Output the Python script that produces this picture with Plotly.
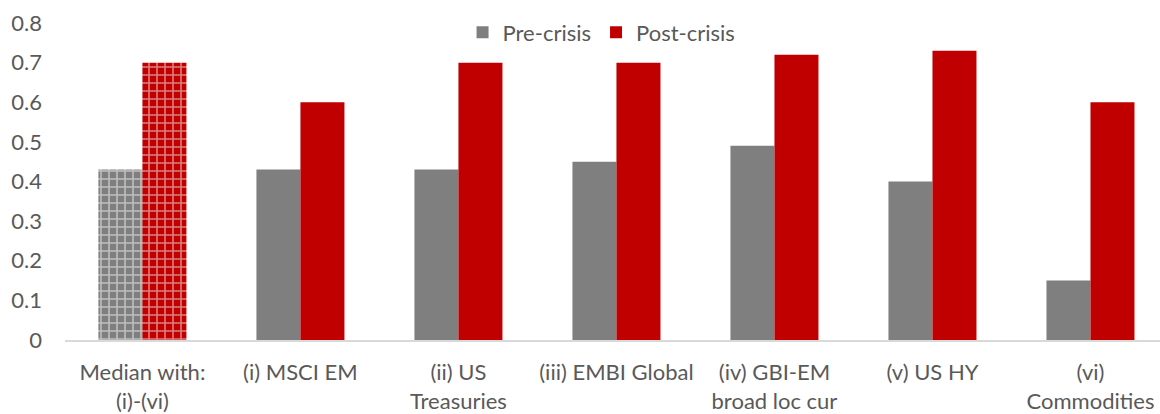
import plotly.graph_objects as go

categories = [
    "Median with:<br>(i)-(vi)",
    "(i) MSCI EM",
    "(ii) US<br>Treasuries",
    "(iii) EMBI Global",
    "(iv) GBI-EM<br>broad loc cur",
    "(v) US HY",
    "(vi)<br>Commodities",
]
pre_crisis = [0.43, 0.43, 0.43, 0.45, 0.49, 0.40, 0.15]
post_crisis = [0.70, 0.60, 0.70, 0.70, 0.72, 0.73, 0.60]

GREY = "#7f7f7f"
RED = "#c00000"
TEXT = "#595959"
FONT = "Lato"
FS = 22

# the median group is drawn with a checkered fill, the rest solid
grid_shapes = ["+"] + [""] * (len(categories) - 1)

fig = go.Figure()
for name, vals, col, grp in [("Pre-crisis", pre_crisis, GREY, "a"),
                             ("Post-crisis", post_crisis, RED, "b")]:
    fig.add_trace(go.Bar(
        name=name, x=categories, y=vals, offsetgroup=grp, showlegend=False,
        marker=dict(color=col, line=dict(width=0),
                    pattern=dict(shape=grid_shapes, fgcolor="white", bgcolor=col,
                                 size=8, solidity=0.35, fillmode="overlay")),
    ))
    # solid legend entry sharing the same bar slot
    fig.add_trace(go.Bar(
        name=name, x=[categories[0]], y=[None], offsetgroup=grp, showlegend=True,
        marker=dict(color=col, line=dict(width=0)),
    ))

fig.update_layout(
    width=1160, height=414,
    margin=dict(l=65, r=0, t=23, b=71),
    plot_bgcolor="white", paper_bgcolor="white",
    barmode="group", bargap=0.443, bargroupgap=0,
    font=dict(family=FONT, size=FS, color=TEXT),
    legend=dict(orientation="h", x=0.49, xanchor="center", y=0.97, yanchor="middle",
                font=dict(family=FONT, size=FS, color=TEXT), traceorder="normal",
                itemwidth=30, bgcolor="rgba(0,0,0,0)"),
    xaxis=dict(showgrid=False, showline=True, linecolor="#d9d9d9", linewidth=1.5,
               range=[-0.49, 6.44], ticks="", ticklabelstandoff=12,
               tickfont=dict(family=FONT, size=FS, color=TEXT)),
    yaxis=dict(range=[0, 0.8], showgrid=False, zeroline=False,
               showline=False, ticks="", ticklabelstandoff=22,
               tickfont=dict(family=FONT, size=FS, color=TEXT),
               tickvals=[0, 0.1, 0.2, 0.3, 0.4, 0.5, 0.6, 0.7, 0.8],
               ticktext=["0", "0.1", "0.2", "0.3", "0.4", "0.5", "0.6", "0.7", "0.8"]),
)

fig.write_html("out.html")
